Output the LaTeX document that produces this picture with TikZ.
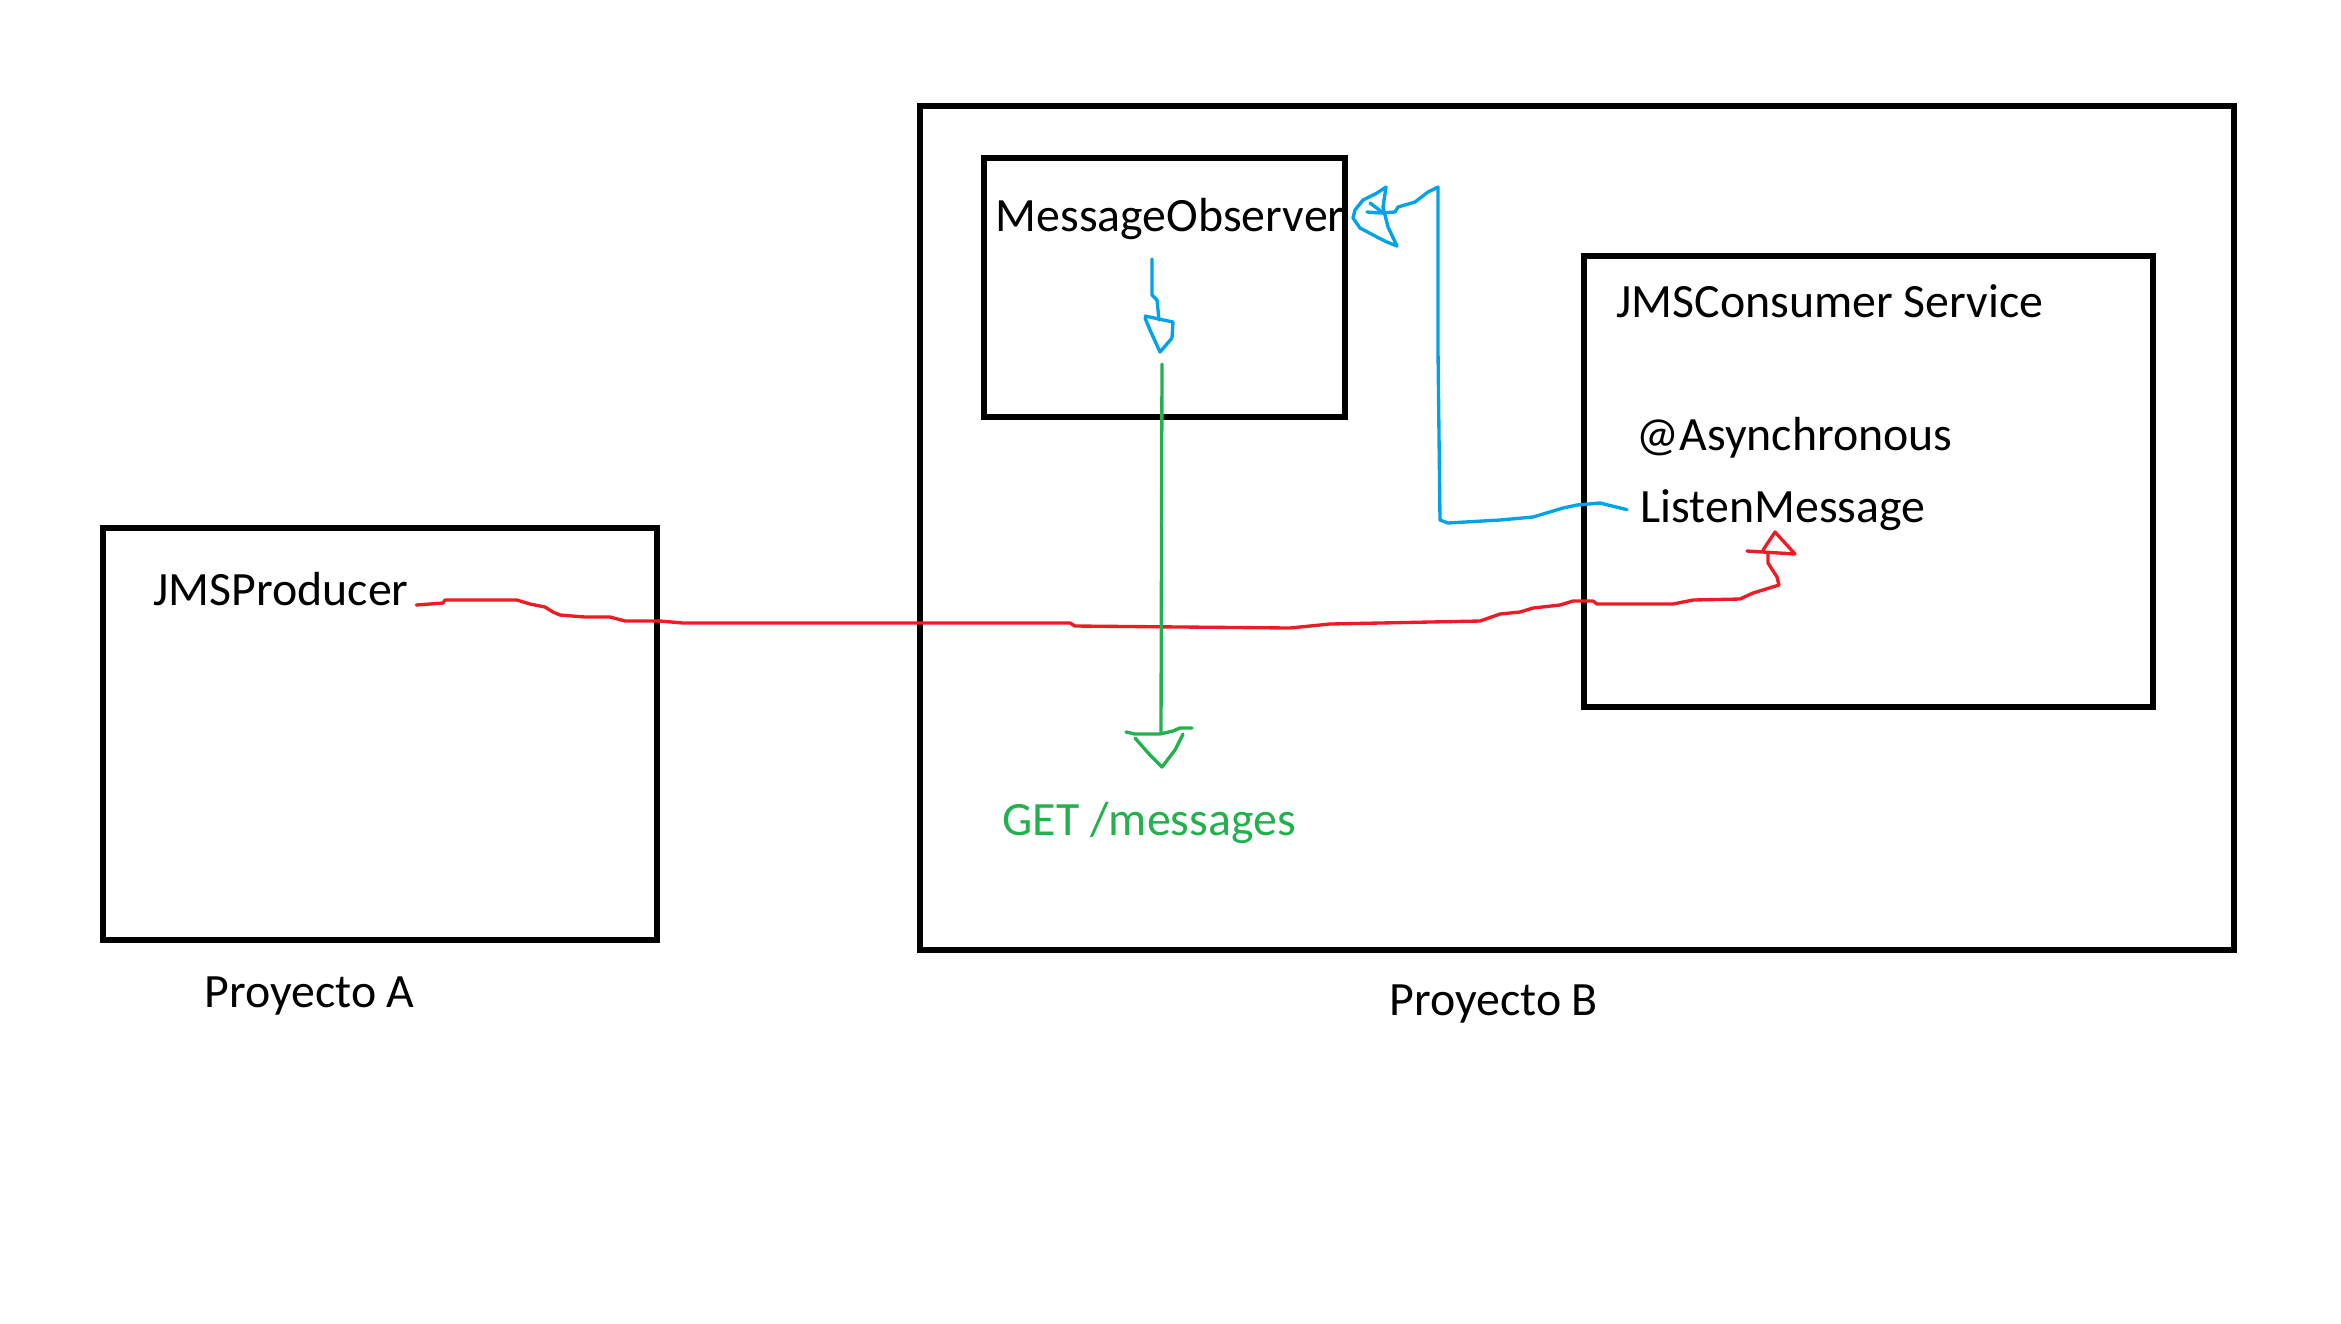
\documentclass[tikz,border=0pt]{standalone}
\usepackage{fontspec}
\setmainfont{Carlito}
\definecolor{paintred}{RGB}{237,28,36}
\definecolor{paintblue}{RGB}{0,162,232}
\definecolor{paintgreen}{RGB}{34,177,76}
\begin{document}
\begin{tikzpicture}[x=0.01cm, y=-0.01cm,
    frame/.style={draw, line width=1.5pt},
    caption/.style={anchor=base west, inner sep=0pt, font=\fontsize{13.6}{16}\selectfont},
    wire/.style={line width=0.95pt, line join=round, line cap=round}]
    \useasboundingbox (0,0) rectangle (2341,1323);
    % boxes
    \draw[frame] (103,528) rectangle (657,940);
    \draw[frame] (920,106) rectangle (2234,950);
    \draw[frame] (984,158) rectangle (1345,417);
    \draw[frame] (1584,256) rectangle (2153,707);
    % texts
    \node[caption] (producer) at (153,605) {JMSProducer};
    \node[caption] (projA) at (204,1007) {Proyecto A};
    \node[caption] (observer) at (995,231) {MessageObserver};
    \node[caption] (consumer) at (1616,317) {JMSConsumer Service};
    \node[caption] (async) at (1636,450) {@Asynchronous};
    \node[caption] (listen) at (1640,522) {ListenMessage};
    \node[caption, text=paintgreen] (get) at (1002,835) {GET /messages};
    \node[caption] (projB) at (1389,1015) {Proyecto B};
    % arrow tips
    \coordinate (redtip) at (1775,532);
    \coordinate (bluetip) at (1353,218);
    \coordinate (downtip) at (1160,352);
    \coordinate (greentip) at (1162,767);
    % red: producer -> listen
    \draw[wire, paintred] ([xshift=0.07cm]producer.base east) -- (443,603) -- (445,600) -- (517,600)
        -- (530,604) -- (545,607) -- (553,612) -- (560,615) -- (585,617) -- (610,617)
        -- (625,621) -- (660,621) -- (683,623) -- (1070,623) -- (1075,626) -- (1290,628)
        -- (1330,624) -- (1380,623) -- (1480,621) -- (1500,614) -- (1520,612) -- (1533,608)
        -- (1560,605) -- (1573,601) -- (1593,601) -- (1597,604) -- (1673,604) -- (1693,600)
        -- (1740,599) -- (1753,593) -- (1779,585) -- (1777,577) -- (1768,563) -- (1768,553);
    \draw[wire, paintred] (1747,551) -- (1795,554) -- (redtip) -- (1763,550);
    % blue: listen -> observer
    \draw[wire, paintblue] ([xshift=-0.13cm]listen.west) -- (1600,503) -- (1577,505) -- (1563,508)
        -- (1533,517) -- (1500,520) -- (1448,523) -- (1440,520) -- (1438,350) -- (1438,187)
        -- (1428,192) -- (1415,202) -- (1398,207) -- (1395,212) -- (1380,213) -- (1367,212);
    \draw[wire, paintblue] (1386,187) -- (1383,207) -- (1388,227) -- (1397,246) -- (1387,242)
        -- (1377,237) -- (1360,228) -- (bluetip) -- (1355,210) -- (1363,200) -- (1377,193) -- cycle;
    \draw[wire, paintblue] (1370,203) -- (1382,212);
    % blue: observer down
    \draw[wire, paintblue] (1152,259) -- (1152,295) -- (1157,300) -- (1159,320);
    \draw[wire, paintblue] (1145,316) -- (1173,322) -- (1172,338) -- (downtip) -- (1150,330) -- (1145,318);
    % green: observer -> get
    \draw[wire, paintgreen] (1162,364) -- (1161,733);
    \draw[wire, paintgreen] (1126,732) -- (1135,734) -- (1160,734) -- (1173,731) -- (1180,728) -- (1192,728);
    \draw[wire, paintgreen] (1135,738) -- (1150,755) -- (greentip) -- (1175,750) -- (1183,734);
\end{tikzpicture}
\end{document}
